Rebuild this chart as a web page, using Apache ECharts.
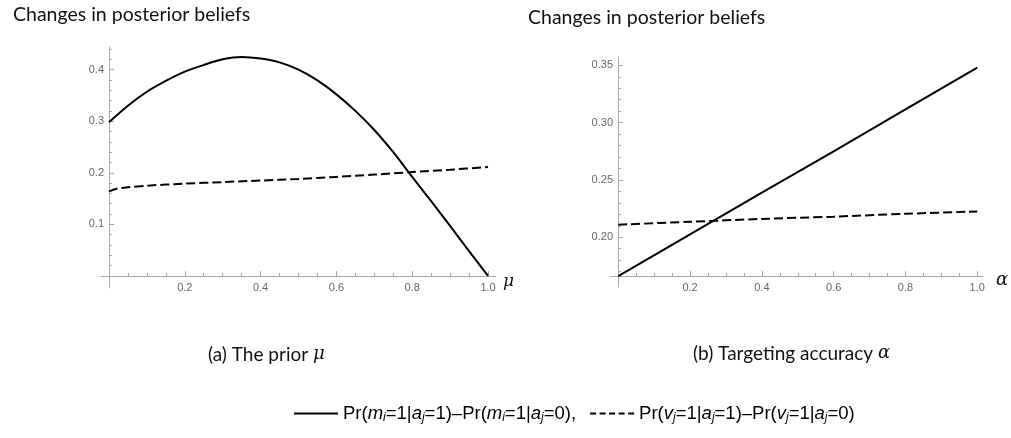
<!DOCTYPE html>
<html>
<head>
<meta charset="utf-8">
<script src="https://cdn.jsdelivr.net/npm/echarts@6/dist/echarts.min.js"></script>
<style>
  html, body { margin: 0; padding: 0; background: #fff; }
  #chart { width: 1011px; height: 438px; }
</style>
</head>
<body>
<div id="chart"></div>
<script>
// panel (a): the prior mu
const muSolid = [0, 0.05, 0.1, 0.15, 0.2, 0.25, 0.3, 0.35, 0.4, 0.45, 0.5, 0.55, 0.6, 0.65, 0.7, 0.75, 0.8, 0.85, 0.9, 0.95, 1.0]
const mSolidA = [0.298, 0.330, 0.357, 0.378, 0.396, 0.409, 0.420, 0.4245, 0.4215, 0.414, 0.400, 0.379, 0.352, 0.320, 0.283, 0.240, 0.192, 0.145, 0.097, 0.048, 0.0]
const muDashed = [0, 0.02, 0.05, 0.1, 0.2, 0.3, 0.4, 0.5, 0.6, 0.7, 0.8, 0.9, 1.0]
const vDashedA = [0.164, 0.169, 0.172, 0.175, 0.179, 0.182, 0.185, 0.188, 0.192, 0.1965, 0.2015, 0.206, 0.211]

// panel (b): targeting accuracy alpha
const alphaVals = [0, 0.2, 0.4, 0.6, 0.8, 1.0]
const mSolidB = [0.166, 0.2025, 0.239, 0.275, 0.3115, 0.348]
const vDashedB = [0.211, 0.2135, 0.216, 0.218, 0.2205, 0.2225]

// tick labels
const xTicks = [0.2, 0.4, 0.6, 0.8, 1.0]
const yTicksA = [0.1, 0.2, 0.3, 0.4]
const yTicksB = [0.20, 0.25, 0.30, 0.35]

const nameM = 'Pr(mi=1|aj=1)-Pr(mi=1|aj=0)'
const nameV = 'Pr(vj=1|aj=1)-Pr(vj=1|aj=0)'

// minor ticks between the labelled ones
const steps = (from, to, step, skip) => {
  const out = []
  for (let v = from; v <= to + 1e-9; v += step) {
    const r = Math.round(v * 1000) / 1000
    if (!skip.some(s => Math.abs(s - r) < 1e-6)) out.push(r)
  }
  return out
}
const xMinor = steps(0.05, 1.0, 0.05, xTicks)
const yMinorA = steps(0.02, 0.44, 0.02, yTicksA)
const yMinorB = steps(0.17, 0.35, 0.01, yTicksB)

const pairs = (xs, ys) => xs.map((x, i) => [x, ys[i]])

const axisColor = '#a8a8a8'
const labelStyle = { color: '#666', fontSize: 11, fontFamily: 'Liberation Sans, Arial, sans-serif' }

// one axis: either the labelled one (major ticks) or a bare one carrying minor ticks
const axis = (grid, pos, off, min, max, labels, ticks, len, digits, extra) => Object.assign({
  type: 'value', gridIndex: grid, position: pos, offset: off, min: min, max: max,
  splitLine: { show: false },
  axisLine: { show: !!labels, onZero: false, lineStyle: { color: axisColor, width: 1 } },
  axisTick: { show: true, inside: true, length: len, customValues: ticks, lineStyle: { color: axisColor } },
  axisLabel: labels
    ? Object.assign({ show: true, customValues: labels, margin: pos === 'bottom' ? 6 : 5, formatter: v => v.toFixed(digits) }, labelStyle)
    : { show: false }
}, extra)

const titleStyle = { fontFamily: 'Lato', fontWeight: 'normal', fontSize: 19.5, color: '#111' }
const capStyle = {
  fontFamily: 'Lato', fontWeight: 'normal', fontSize: 19, color: '#111',
  rich: { g: { fontFamily: 'DejaVu Serif', fontStyle: 'italic', fontSize: 18, color: '#111' } }
}
const legendFont = 'Liberation Sans, Arial, sans-serif'

const myChart = echarts.init(document.getElementById('chart'))

const option = {
  animation: false,
  backgroundColor: '#fff',
  title: [
    { text: 'Changes in posterior beliefs', left: 8, top: 0, textStyle: titleStyle },
    { text: 'Changes in posterior beliefs', left: 523, top: 3, textStyle: titleStyle },
    { text: '(a) The prior {g|μ}', left: 203, top: 340, textStyle: capStyle },
    { text: '(b) Targeting accuracy {g|α}', left: 688, top: 339, textStyle: capStyle }
  ],
  legend: {
    left: 289, top: 399, itemWidth: 44, itemHeight: 12, itemGap: 14,
    data: [
      { name: nameM, icon: 'path://M0,5H44V7H0Z' },
      { name: nameV, icon: 'path://M0,5h6v2h-6zM9.5,5h6v2h-6zM19,5h6v2h-6zM28.5,5h6v2h-6zM38,5h6v2h-6z' }
    ],
    itemStyle: { color: '#000' },
    formatter: name => name === nameM
      ? 'Pr({i|m}{s|i}=1|{i|a}{s|j}=1)–Pr({i|m}{s|i}=1|{i|a}{s|j}=0),'
      : 'Pr({i|v}{s|j}=1|{i|a}{s|j}=1)–Pr({i|v}{s|j}=1|{i|a}{s|j}=0)',
    textStyle: {
      fontFamily: legendFont, fontSize: 18.5, color: '#000',
      rich: {
        i: { fontFamily: legendFont, fontStyle: 'italic', fontSize: 18.5, color: '#000' },
        s: { fontFamily: legendFont, fontStyle: 'italic', fontSize: 12, color: '#000', verticalAlign: 'bottom', padding: [9, 0, 0, 0] }
      }
    }
  },
  grid: [
    { left: 101, right: 515, top: 47, bottom: 150, outerBoundsMode: 'none' },
    { left: 610, right: 28, top: 57, bottom: 151, outerBoundsMode: 'none' }
  ],
  xAxis: [
    axis(0, 'bottom', -12, -0.021, 1.021, xTicks, xTicks, 5, 1, {
      name: 'μ', nameLocation: 'end', nameGap: 7,
      nameTextStyle: { fontFamily: 'DejaVu Serif', fontStyle: 'italic', fontSize: 17, color: '#111', verticalAlign: 'top', lineHeight: 12 }
    }),
    axis(0, 'bottom', -12, -0.021, 1.021, null, xMinor, 3),
    axis(1, 'bottom', -11, -0.023, 1.016, xTicks, xTicks, 5, 1, {
      name: 'α', nameLocation: 'end', nameGap: 13,
      nameTextStyle: { fontFamily: 'DejaVu Serif', fontStyle: 'italic', fontSize: 18, color: '#111', verticalAlign: 'top', lineHeight: 8 }
    }),
    axis(1, 'bottom', -11, -0.023, 1.016, null, xMinor, 3)
  ],
  yAxis: [
    axis(0, 'left', -8, -0.0233, 0.4438, yTicksA, yTicksA, 5, 1),
    axis(0, 'left', -8, -0.0233, 0.4438, null, yMinorA, 3),
    axis(1, 'left', -8, 0.1566, 0.3573, yTicksB, yTicksB, 5, 2),
    axis(1, 'left', -8, 0.1566, 0.3573, null, yMinorB, 3)
  ],
  series: [
    {
      name: nameM, type: 'line', xAxisIndex: 0, yAxisIndex: 0, showSymbol: false, symbol: 'none',
      smooth: 0.3,
      lineStyle: { color: '#000', width: 2 }, itemStyle: { color: '#000' },
      data: pairs(muSolid, mSolidA)
    },
    {
      name: nameV, type: 'line', xAxisIndex: 0, yAxisIndex: 0, showSymbol: false, symbol: 'none',
      smooth: 0.3,
      lineStyle: { color: '#000', width: 2, type: [9, 4] }, itemStyle: { color: '#000' },
      data: pairs(muDashed, vDashedA)
    },
    {
      name: nameM, type: 'line', xAxisIndex: 2, yAxisIndex: 2, showSymbol: false, symbol: 'none',
      lineStyle: { color: '#000', width: 2 }, itemStyle: { color: '#000' },
      data: pairs(alphaVals, mSolidB)
    },
    {
      name: nameV, type: 'line', xAxisIndex: 2, yAxisIndex: 2, showSymbol: false, symbol: 'none',
      smooth: 0.3,
      lineStyle: { color: '#000', width: 2, type: [9, 4] }, itemStyle: { color: '#000' },
      data: pairs(alphaVals, vDashedB)
    }
  ]
}

myChart.setOption(option)
</script>
</body>
</html>
